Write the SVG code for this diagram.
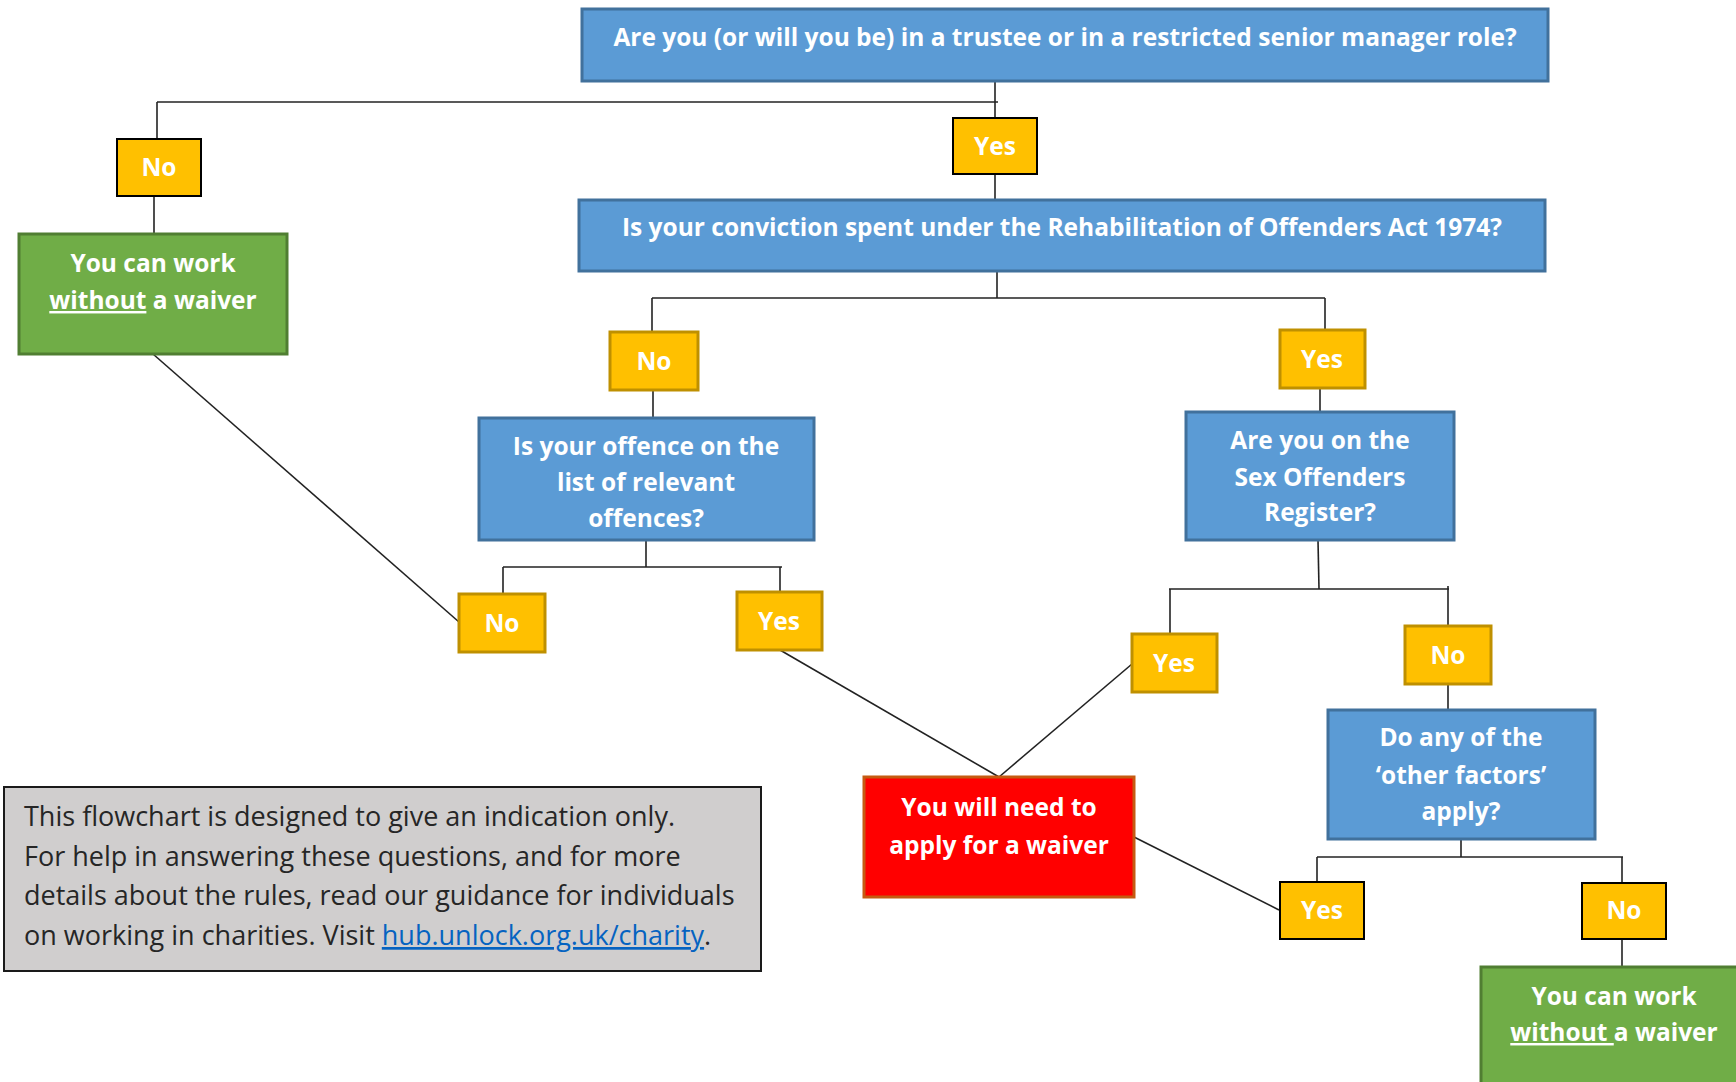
<svg xmlns="http://www.w3.org/2000/svg" width="1736" height="1082" viewBox="0 0 1736 1082">
<style>
.q{fill:#5B9BD5;stroke:#41719C;stroke-width:3}
.yb{fill:#FFC000;stroke:#000;stroke-width:2}
.yg{fill:#FFC000;stroke:#BF9000;stroke-width:3}
.g{fill:#70AD47;stroke:#507E32;stroke-width:3}
.r{fill:#FF0000;stroke:#C55A11;stroke-width:3}
.n{fill:#D0CECE;stroke:#1a1a1a;stroke-width:2}
.t{font-family:"Open Sans","Liberation Sans",sans-serif;font-weight:bold;font-size:24.5px;fill:#fff;text-anchor:middle}
.f{font-family:"Open Sans","Liberation Sans",sans-serif;font-size:27px;fill:#262626}
.c line{stroke:#222;stroke-width:1.6}
</style>
<g class="c" id="connectors">
<line x1="995" y1="81" x2="995" y2="118"/>
<line x1="157" y1="102" x2="998" y2="102"/>
<line x1="157" y1="102" x2="157" y2="138"/>
<line x1="154" y1="196" x2="154" y2="234"/>
<line x1="995" y1="174" x2="995" y2="200"/>
<line x1="997" y1="271" x2="997" y2="298"/>
<line x1="652" y1="298" x2="1325" y2="298"/>
<line x1="652" y1="298" x2="652" y2="332"/>
<line x1="1325" y1="298" x2="1325" y2="330"/>
<line x1="653" y1="390" x2="653" y2="418"/>
<line x1="1320" y1="388" x2="1320" y2="412"/>
<line x1="646" y1="540" x2="646" y2="567"/>
<line x1="503" y1="567" x2="782" y2="567"/>
<line x1="503" y1="567" x2="503" y2="594"/>
<line x1="780" y1="567" x2="780" y2="592"/>
<line x1="1318" y1="540" x2="1319" y2="589"/>
<line x1="1169" y1="589" x2="1449" y2="589"/>
<line x1="1170" y1="589" x2="1170" y2="634"/>
<line x1="1448" y1="586" x2="1448" y2="626"/>
<line x1="1448" y1="684" x2="1448" y2="710"/>
<line x1="1461" y1="839" x2="1461" y2="857"/>
<line x1="1317" y1="857" x2="1623" y2="857"/>
<line x1="1317" y1="857" x2="1317" y2="882"/>
<line x1="1622" y1="857" x2="1622" y2="883"/>
<line x1="1622" y1="939" x2="1622" y2="967"/>
<line x1="153" y1="354" x2="459" y2="622"/>
<line x1="780" y1="650" x2="999" y2="777"/>
<line x1="1132" y1="664" x2="999" y2="777"/>
<line x1="1134" y1="837" x2="1279" y2="910"/>
</g>
<g id="q1"><rect class="q" x="582" y="9" width="966" height="72"/><text class="t" x="1065" y="46">Are you (or will you be) in a trustee or in a restricted senior manager role?</text></g>
<g id="no1"><rect class="yb" x="117" y="139" width="84" height="57"/><text class="t" x="159" y="176">No</text></g>
<g id="yes1"><rect class="yb" x="953" y="118" width="84" height="56"/><text class="t" x="995" y="155">Yes</text></g>
<g id="ok1"><rect class="g" x="19" y="234" width="268" height="120"/><text class="t" x="153" y="272">You can work</text><text class="t" x="153" y="309"><tspan text-decoration="underline">without</tspan> a waiver</text></g>
<g id="q2"><rect class="q" x="579" y="200" width="966" height="71"/><text class="t" x="1062" y="236">Is your conviction spent under the Rehabilitation of Offenders Act 1974?</text></g>
<g id="no2"><rect class="yg" x="610" y="332" width="88" height="58"/><text class="t" x="654" y="370">No</text></g>
<g id="yes2"><rect class="yg" x="1280" y="330" width="85" height="58"/><text class="t" x="1322" y="368">Yes</text></g>
<g id="q3"><rect class="q" x="479" y="418" width="335" height="122"/><text class="t" x="646" y="455">Is your offence on the</text><text class="t" x="646" y="491">list of relevant</text><text class="t" x="646" y="527">offences?</text></g>
<g id="q4"><rect class="q" x="1186" y="412" width="268" height="128"/><text class="t" x="1320" y="449">Are you on the</text><text class="t" x="1320" y="486">Sex Offenders</text><text class="t" x="1320" y="521">Register?</text></g>
<g id="no3"><rect class="yg" x="459" y="594" width="86" height="58"/><text class="t" x="502" y="632">No</text></g>
<g id="yes3"><rect class="yg" x="737" y="592" width="85" height="58"/><text class="t" x="779" y="630">Yes</text></g>
<g id="yes4"><rect class="yg" x="1132" y="634" width="85" height="58"/><text class="t" x="1174" y="672">Yes</text></g>
<g id="no4"><rect class="yg" x="1405" y="626" width="86" height="58"/><text class="t" x="1448" y="664">No</text></g>
<g id="q5"><rect class="q" x="1328" y="710" width="267" height="129"/><text class="t" x="1461" y="746">Do any of the</text><text class="t" x="1461" y="784">‘other factors’</text><text class="t" x="1461" y="820">apply?</text></g>
<g id="waiver"><rect class="r" x="864" y="777" width="270" height="120"/><text class="t" x="999" y="816">You will need to</text><text class="t" x="999" y="854">apply for a waiver</text></g>
<g id="yes5"><rect class="yb" x="1280" y="882" width="84" height="57"/><text class="t" x="1322" y="919">Yes</text></g>
<g id="no5"><rect class="yb" x="1582" y="883" width="84" height="56"/><text class="t" x="1624" y="919">No</text></g>
<g id="ok2"><rect class="g" x="1481" y="967" width="270" height="130"/><text class="t" x="1614" y="1005">You can work</text><text class="t" x="1614" y="1041"><tspan text-decoration="underline">without </tspan>a waiver</text></g>
<g id="note"><rect class="n" x="4" y="787" width="757" height="184"/>
<text class="f" x="24" y="826">This flowchart is designed to give an indication only.</text>
<text class="f" x="24" y="866">For help in answering these questions, and for more</text>
<text class="f" x="24" y="905">details about the rules, read our guidance for individuals</text>
<text class="f" x="24" y="945">on working in charities. Visit <tspan fill="#0563C1" text-decoration="underline">hub.unlock.org.uk/charity</tspan>.</text>
</g>
</svg>
